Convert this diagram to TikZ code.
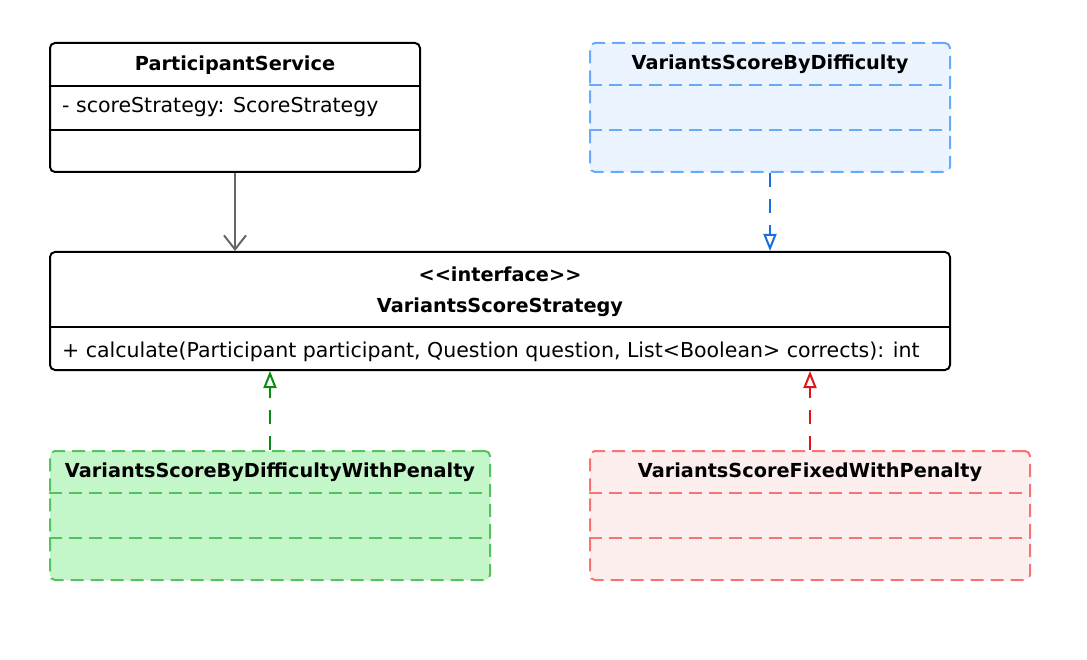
\documentclass[tikz,border=0pt]{standalone}
\usepackage{fontspec}
\setmainfont{DejaVu Sans}
\usepackage{tikz}
\usetikzlibrary{arrows.meta}
\definecolor{bluestroke}{HTML}{66AAF8}
\definecolor{bluefill}{HTML}{EBF4FE}
\definecolor{bluearrow}{HTML}{1A6EE0}
\definecolor{greenstroke}{HTML}{55C25F}
\definecolor{greenfill}{HTML}{C3F6C8}
\definecolor{greenarrow}{HTML}{0A8A12}
\definecolor{redstroke}{HTML}{F87474}
\definecolor{redfill}{HTML}{FDEEEE}
\definecolor{redarrow}{HTML}{E01414}
\definecolor{grayarrow}{HTML}{666666}
\tikzset{
    classbox/.style={draw, line width=2pt, rounded corners=5pt, inner sep=0pt},
    dashbox/.style={classbox, dash pattern=on 13pt off 7pt},
    divider/.style={line width=2pt},
    classname/.style={font=\fontsize{19.3}{23}\selectfont\bfseries, inner sep=0pt},
    member/.style={font=\fontsize{20.5}{24}\selectfont, inner sep=0pt, anchor=west},
    realize/.style={dash pattern=on 14pt off 12pt, line width=2pt, -{Triangle[open, length=17pt, width=13pt, fill=white]}},
}

\begin{document}
\begin{tikzpicture}[x=1pt, y=-1pt]
    \useasboundingbox (0, 0) rectangle (1087, 660);
    % ParticipantService
    \node [classbox, minimum width=370pt, minimum height=129pt] (ps) at (235, 107.5) {};
    \node [classname] (ps name) at (235, 65) {ParticipantService};
    \node [member] (ps attr) at (62, 107) {- scoreStrategy: ScoreStrategy};
    \draw [divider] ([yshift=-44pt]ps.north west) -- ([yshift=-44pt]ps.north east);
    \draw [divider] ([yshift=43pt]ps.south west) -- ([yshift=43pt]ps.south east);
    % interface
    \node [classbox, minimum width=900pt, minimum height=118pt] (strategy) at (500, 311) {};
    \node [classname] (strategy stereo) at (500, 274) {<{}<interface>{}>};
    \node [classname] (strategy name) at (500, 307) {VariantsScoreStrategy};
    \node [member] (strategy op) at (62, 352) {+ calculate(Participant participant, Question question, List<Boolean> corrects): int};
    \draw [divider] ([yshift=44pt]strategy.south west) -- ([yshift=44pt]strategy.south east);
    % implementations
    \foreach \name/\cx/\cy/\w/\c/\txt in {
        bydiff/770/107.5/360/blue/VariantsScoreByDifficulty,
        bydiffpen/270/515.5/440/green/VariantsScoreByDifficultyWithPenalty,
        fixedpen/810/515.5/440/red/VariantsScoreFixedWithPenalty} {
        \node [dashbox, draw=\c stroke, fill=\c fill, minimum width=\w pt, minimum height=129pt] (\name) at (\cx, \cy) {};
        \node [classname] (\name-title) at (\cx, \cy - 43) {\txt};
        \draw [divider, draw=\c stroke, dash pattern=on 13pt off 7pt] ([yshift=-43pt]\name.north west) -- ([yshift=-43pt]\name.north east);
        \draw [divider, draw=\c stroke, dash pattern=on 13pt off 7pt] ([yshift=43pt]\name.south west) -- ([yshift=43pt]\name.south east);
    }
    % connectors
    \draw [grayarrow, line width=2pt, -{Straight Barb[length=14pt, width=22pt]}] (ps.south -| 235, 0) -- (strategy.north -| 235, 0);
    \draw [realize, bluearrow] (bydiff.south) -- (strategy.north -| bydiff.south);
    \draw [realize, greenarrow] (bydiffpen.north) -- (strategy.south -| bydiffpen.north);
    \draw [realize, redarrow] (fixedpen.north) -- (strategy.south -| fixedpen.north);
\end{tikzpicture}
\end{document}
